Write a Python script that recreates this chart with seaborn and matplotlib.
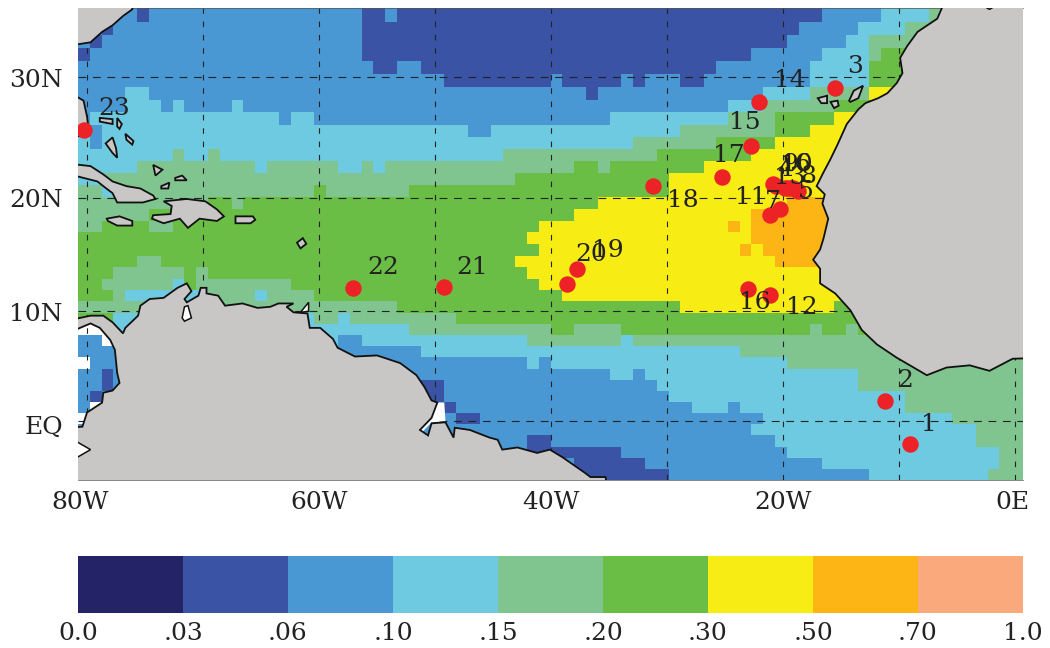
import numpy as np
import seaborn as sns
import matplotlib.pyplot as plt
from matplotlib.colors import ListedColormap

# colour classes of the map
level_colors = ['#252368', '#3a53a4', '#4a98d3', '#6dcae0', '#80c58f',
                '#6abd45', '#f7ec13', '#fdb515', '#f9a97c']
level_labels = ['0.0', '.03', '.06', '.10', '.15', '.20', '.30', '.50', '.70', '1.0']

# class per grid row, north to south, written as startcolumn:class (w = no data)
grid_rows = [
    '0:2 5:1 6:2 24:1 26:2 27:1 63:2 68:3 72:4',
    '0:2 2:1 3:2 24:1 61:2 66:3 70:4',
    '0:2 1:1 2:2 24:1 60:2 65:3 67:4',
    '0:1 1:2 24:1 57:2 63:3 67:4 68:5',
    '0:2 25:1 27:2 29:1 54:2 62:3 67:5',
    '0:2 31:1 40:2 41:1 46:2 47:1 48:2 51:1 53:2 62:3 67:5 70:6',
    '0:2 4:3 6:2 43:1 44:2 58:3 62:4 67:6',
    '0:2 4:3 7:2 8:3 9:2 13:3 14:2 55:3 58:4 64:5',
    '0:2 1:3 17:2 18:3 20:2 45:3 55:4 59:5 64:6',
    '0:3 1:2 2:3 33:2 35:3 51:4 59:5 62:6',
    '0:3 1:2 2:3 47:4 54:5 59:6',
    '0:3 8:4 9:3 11:4 12:3 36:4 49:5 57:6',
    '0:3 5:4 15:3 16:4 22:3 24:4 25:3 26:4 42:5 44:4 45:5 53:6',
    '0:3 2:4 37:5 50:6',
    '0:4 2:3 3:4 20:5 21:4 28:5 50:6',
    '0:4 11:5 13:4 14:5 44:6 60:7',
    '0:4 6:5 42:6 57:7',
    '0:4 2:5 6:4 8:5 39:6 55:7 56:6 57:7',
    '0:5 38:6 57:7',
    '0:5 39:6 56:7 57:6 58:7',
    '0:5 5:4 7:5 37:6 59:7',
    '0:5 3:4 9:5 10:4 11:5 38:6',
    '0:5 2:4 8:3 9:5 10:4 18:5 39:6',
    '0:5 3:4 4:3 11:4 15:3 16:4 20:5 41:6',
    '0:4 27:5 51:6 64:5',
    '0:5 3:3 20:4 22:3 23:4 32:5',
    '0:w 3:3 28:4 40:5 42:4 46:5 62:4 63:5 65:4 66:5',
    '0:2 2:w 3:3 22:2 24:3 38:4 46:3 47:4',
    '0:2 29:3 56:4',
    '0:w 1:2 38:3 39:2 40:3 60:4',
    '0:2 2:1 3:2 45:3 47:2 48:3 66:4',
    '0:2 2:1 3:2 29:1 31:2 49:3 66:4',
    '0:2 1:1 2:2 29:1 31:2 50:3 70:4',
    '0:2 1:w 2:2 31:1 32:2 52:3 55:2 56:3 70:4',
    '0:w 1:2 32:1 34:2 58:3 74:4',
    '0:2 57:3 76:4',
    '0:2 38:1 40:2 59:3 76:4',
    '0:2 38:1 46:2 60:3 78:4',
    '0:2 42:1 48:2 63:3 78:4',
    '0:2 42:1 50:2 67:3 77:4',
]

# stations
station_ids = list(range(1, 24))
station_lon = [-9.05, -11.2, -15.5, -20.9, -18.7, -19.3, -20.3, -19.8, -20.6, -19.6, -21.1, -21.1,
               -19.1, -22.1, -22.8, -23.0, -25.3, -31.2, -37.8, -38.6, -49.2, -57.1, -80.3]
station_lat = [-2.1, 1.8, 29.1, 21.2, 20.6, 20.8, 19.0, 20.8, 21.0, 20.8, 18.5, 11.5,
               20.8, 28.0, 24.4, 12.0, 21.8, 21.0, 13.8, 12.4, 12.2, 12.1, 25.7]
label_lon = [-7.4, -9.5, -13.8, -19.8, -18.0, -18.3, -20.9, -17.8, -19.4, -18.8, -22.8, -18.4,
             -19.4, -19.4, -23.3, -22.4, -24.7, -28.6, -35.1, -36.5, -46.8, -54.5, -77.7]
label_lat = [-0.3, 3.7, 30.8, 22.4, 20.5, 22.8, 19.7, 21.8, 22.8, 22.8, 20.0, 10.3,
             21.7, 29.7, 26.3, 10.8, 23.6, 19.8, 15.4, 15.1, 13.9, 13.9, 27.5]

# coastlines as lon, lat
africa = [(-6.2, 35.5), (-6.7, 34.5), (-8.4, 33.5), (-9.3, 32.4), (-9.9, 31.5), (-9.7, 30.3),
          (-10.2, 29.5), (-11.0, 28.7), (-11.8, 28.3), (-12.9, 27.9), (-13.5, 27.4), (-14.5, 26.2),
          (-15.3, 24.5), (-15.9, 23.3), (-16.6, 22.0), (-17.1, 21.0), (-16.4, 20.3), (-16.6, 19.5),
          (-16.1, 18.2), (-16.5, 16.5), (-16.8, 15.5), (-17.4, 14.6), (-16.8, 13.8), (-16.8, 12.5),
          (-15.5, 11.6), (-14.2, 10.1), (-13.2, 8.3), (-11.9, 7.0), (-10.2, 5.8), (-7.6, 4.2),
          (-5.9, 4.9), (-3.9, 5.1), (-2.2, 4.6), (-0.2, 5.7), (3.0, 5.8), (3.0, 37.0), (-6.2, 37.0)]
south_america = [(-81.5, 9.2), (-79.7, 9.6), (-78.6, 9.6), (-77.8, 9.0), (-76.9, 8.0), (-76.7, 8.5),
                 (-75.6, 9.6), (-75.4, 10.5), (-74.6, 11.1), (-73.4, 11.2), (-72.2, 12.1), (-71.4, 12.5),
                 (-71.0, 11.8), (-71.6, 11.1), (-71.4, 10.8), (-70.4, 11.4), (-70.2, 12.1), (-69.7, 12.1),
                 (-69.7, 11.6), (-68.7, 11.4), (-68.1, 10.5), (-66.6, 10.7), (-65.3, 10.3), (-64.2, 10.4),
                 (-63.5, 10.7), (-62.2, 10.7), (-62.8, 10.4), (-62.2, 9.9), (-61.0, 9.8), (-60.8, 8.5),
                 (-59.9, 8.5), (-58.8, 7.5), (-58.4, 6.7), (-56.9, 5.9), (-55.0, 6.0), (-53.0, 5.3),
                 (-51.6, 4.2), (-50.9, 3.1), (-50.3, 1.9), (-49.8, 1.7), (-50.3, 0.3), (-51.3, -0.8),
                 (-50.6, -1.3), (-50.3, -0.2), (-49.1, -0.1), (-48.4, -1.5), (-48.3, -0.6), (-47.0, -0.8),
                 (-45.3, -1.5), (-44.6, -1.7), (-44.2, -2.6), (-42.9, -2.4), (-41.2, -2.9), (-40.1, -2.6),
                 (-39.0, -3.3), (-37.1, -4.7), (-36.6, -5.1), (-35.3, -5.1), (-35.0, -7.0), (-84.0, -7.0),
                 (-84.0, -0.8), (-80.4, -0.5), (-80.0, 0.8), (-79.7, 1.0), (-78.7, 1.7), (-78.6, 2.6),
                 (-77.8, 2.8), (-77.2, 3.5), (-77.4, 4.4), (-77.6, 6.5), (-78.0, 7.4), (-78.9, 8.5),
                 (-79.7, 8.9), (-81.5, 8.1)]
islands = [
    [(-84.0, 32.1), (-79.7, 32.7), (-78.7, 33.5), (-77.8, 34.0), (-76.9, 34.7), (-76.1, 35.2),
     (-76.0, 37.0), (-84.0, 37.0)],  # north america
    [(-81.5, 28.75), (-80.3, 28.1), (-80.0, 26.8), (-79.9, 26.0), (-80.3, 25.2), (-81.5, 25.2)],  # florida
    [(-81.5, 22.9), (-79.7, 22.7), (-78.6, 22.0), (-77.8, 21.4), (-76.6, 21.0), (-75.4, 20.8),
     (-74.3, 20.2), (-74.1, 19.9), (-75.2, 19.6), (-77.4, 19.6), (-77.8, 20.4), (-78.6, 21.0),
     (-79.1, 21.4), (-80.3, 21.7), (-81.5, 22.0)],  # cuba
    [(-73.4, 19.7), (-71.4, 19.9), (-69.8, 19.7), (-68.8, 19.0), (-68.2, 18.4), (-68.8, 18.0),
     (-70.3, 18.2), (-71.3, 17.4), (-72.0, 18.2), (-73.4, 17.8), (-74.4, 18.2), (-74.3, 18.5),
     (-72.8, 18.6), (-72.7, 19.3)],  # hispaniola
    [(-78.3, 18.2), (-77.2, 18.4), (-76.1, 18.0), (-76.1, 17.6), (-77.4, 17.6), (-78.2, 18.0)],
    [(-67.2, 18.4), (-65.7, 18.4), (-65.5, 18.1), (-65.9, 17.8), (-67.2, 17.8)],
    [(-78.4, 24.6), (-77.8, 25.1), (-77.5, 24.2), (-77.4, 23.4), (-77.8, 23.8)],
    [(-76.7, 25.4), (-76.0, 24.8), (-76.1, 24.5), (-76.6, 24.9)],
    [(-78.9, 26.7), (-77.8, 26.6), (-77.8, 26.2), (-78.9, 26.4)],
    [(-77.4, 26.7), (-77.0, 26.2), (-77.2, 25.8), (-77.4, 26.0)],
    [(-74.3, 22.8), (-73.5, 22.4), (-74.1, 21.9)],
    [(-72.4, 21.7), (-71.8, 21.9), (-71.4, 21.5), (-72.4, 21.5)],
    [(-73.6, 21.0), (-72.9, 21.3), (-73.0, 20.8), (-73.6, 20.8)],
    [(-61.9, 16.1), (-61.4, 16.5), (-61.1, 16.0), (-61.6, 15.6)],
    # canaries
    [(-17.0, 28.3), (-16.2, 28.5), (-16.2, 27.9), (-16.7, 27.9)],
    [(-15.9, 28.0), (-15.3, 28.1), (-15.2, 27.7), (-15.6, 27.5)],
    [(-14.3, 28.1), (-13.9, 28.9), (-13.1, 29.3), (-13.5, 28.3), (-14.2, 28.0)],
]
white_water = [
    [(-49.8, 1.7), (-49.2, 1.7), (-49.1, 0.0), (-50.3, -0.1), (-51.1, -1.0), (-51.3, -0.8), (-50.3, 0.3)],
]
lakes = [
    [(-71.6, 10.4), (-71.3, 10.5), (-71.0, 9.4), (-71.6, 9.1), (-71.8, 9.4)],
    [(-61.6, 9.9), (-60.9, 10.8), (-60.9, 10.0)],
    [(-81.5, -1.5), (-79.7, -2.6), (-81.5, -3.7)],
]
# bit of the iberian shore that shows along the top edge
iberia_lon = [-4.9, -4.3, -2.6, -2.2, -1.6]
iberia_lat = [35.5, 35.4, 35.4, 35.2, 35.5]

lon_ticks = [-80.6, -60, -40, -20, -0.2]
lon_labels = ['80W', '60W', '40W', '20W', '0E']
lat_ticks = [29.9, 20, 9.9, -0.3]
lat_labels = ['30N', '20N', '10N', 'EQ']
grid_lons = [-80, -70, -60, -50, -40, -30, -20, -10, 0]
grid_lats = [30, 20, 10, 0]

n_cols = 80
lon0, dlon = -80.78, 1.0184
lat0, dlat = 35.3, 1.0167


def expand(spec):
    row = np.full(n_cols, np.nan)
    for part in spec.split():
        start, cat = part.split(':')
        row[int(start):] = np.nan if cat == 'w' else int(cat)
    return row


def lon2col(lon):
    return (np.asarray(lon, dtype=float) - lon0) / dlon


def lat2row(lat):
    return (lat0 - np.asarray(lat, dtype=float)) / dlat


# mercator stretch of the rows
def forward(row):
    lat = np.radians(np.clip(lat0 - dlat * np.asarray(row, dtype=float), -85, 85))
    return -np.degrees(np.log(np.tan(np.pi / 4 + lat / 2)))


def inverse(y):
    lat = np.degrees(2 * np.arctan(np.exp(np.radians(-np.asarray(y, dtype=float))))) - 90
    return (lat0 - lat) / dlat


sns.set_style('white')
plt.rcParams['font.family'] = 'DejaVu Serif'
text_color = '#222222'
land_color = '#c9c7c6'

fig = plt.figure(figsize=(10.5, 6.48), dpi=100)
ax = fig.add_axes([78 / 1050, 1 - 480 / 648, 945 / 1050, 472 / 648])
cax = fig.add_axes([78 / 1050, 1 - 612.5 / 648, 945 / 1050, 56.5 / 648])

cmap = ListedColormap(level_colors)
grid = np.array([expand(r) for r in grid_rows])
sns.heatmap(grid, cmap=cmap, vmin=-0.5, vmax=8.5, cbar=False, ax=ax,
            xticklabels=False, yticklabels=False)
ax.set_yscale('function', functions=(forward, inverse))
ax.set_xlim(0, n_cols)
ax.set_ylim(len(grid_rows), 0)

# dashed graticule goes under the land
for lon in grid_lons:
    ax.axvline(lon2col(lon), color=text_color, lw=0.8, ls=(0, (5, 7)), zorder=2)
for lat in grid_lats:
    ax.axhline(lat2row(lat), color=text_color, lw=0.8, ls=(0, (7, 6)), zorder=2)

for poly in white_water:
    lons, lats = zip(*poly)
    ax.fill(lon2col(lons), lat2row(lats), color='white', lw=0, zorder=2.5)
for poly in [africa, south_america] + islands:
    lons, lats = zip(*poly)
    ax.fill(lon2col(lons), lat2row(lats), facecolor=land_color, edgecolor='#111111', lw=1.3, zorder=3)
for poly in lakes:
    lons, lats = zip(*poly)
    ax.fill(lon2col(lons), lat2row(lats), facecolor='white', edgecolor='#111111', lw=1.1, zorder=3.2)
ax.plot(lon2col(iberia_lon), lat2row(iberia_lat), color='#111111', lw=1.1, zorder=3.2)

sns.scatterplot(x=lon2col(station_lon), y=lat2row(station_lat), s=140, color='#ed2227',
                linewidth=0, legend=False, zorder=5, ax=ax)
for sid, lon, lat in zip(station_ids, label_lon, label_lat):
    ax.text(lon2col(lon), lat2row(lat), str(sid), fontsize=18, color=text_color,
            ha='center', va='center', zorder=6)

ax.set_xticks(lon2col(lon_ticks))
ax.set_xticklabels(lon_labels, fontsize=18, color=text_color)
ax.set_yticks(lat2row(lat_ticks))
ax.set_yticklabels(lat_labels, fontsize=18, color=text_color, rotation=0)
ax.minorticks_off()
ax.tick_params(axis='x', length=0, pad=8)
ax.tick_params(axis='y', length=0, pad=11)
ax.set_xlabel('')
ax.set_ylabel('')
for side in ['left', 'right']:
    ax.spines[side].set_visible(False)
for side in ['top', 'bottom']:
    ax.spines[side].set_visible(True)
    ax.spines[side].set_linewidth(0.5)
    ax.spines[side].set_color('#555555')

# colour key
sns.heatmap(np.arange(len(level_colors)).reshape(1, -1), cmap=cmap, vmin=-0.5, vmax=8.5,
            cbar=False, ax=cax, xticklabels=False, yticklabels=False)
cax.set_xticks(np.arange(len(level_labels)))
cax.set_xticklabels(level_labels, fontsize=18, color=text_color, rotation=0)
cax.tick_params(axis='x', length=0, pad=7)

fig.savefig('out.png', dpi=100)
